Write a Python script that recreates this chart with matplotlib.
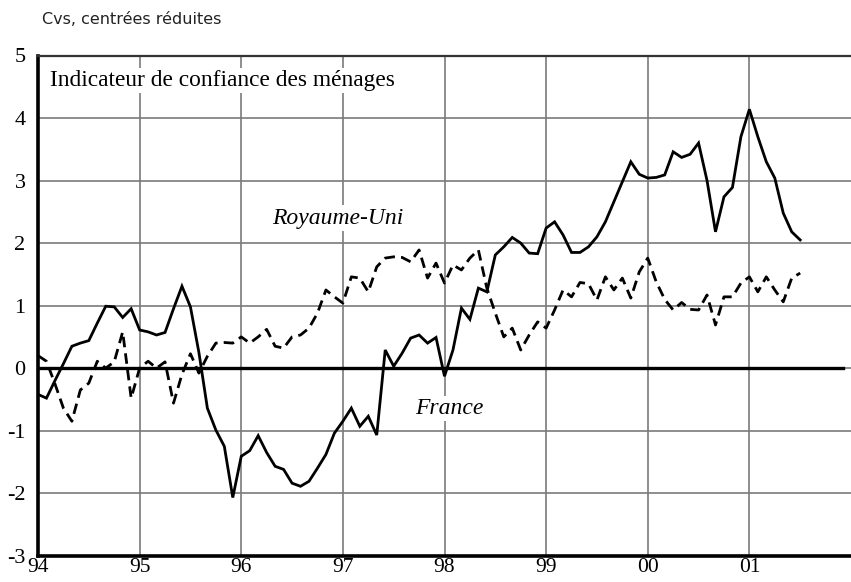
import matplotlib
matplotlib.use("Agg")
import matplotlib.pyplot as plt
import numpy as np

# Monthly data, January 1994 to July 2001
france = [
    -0.42, -0.48, -0.20, 0.07, 0.35, 0.40, 0.44, 0.72, 0.99, 0.98, 0.81, 0.95,
    0.61, 0.58, 0.53, 0.57, 0.95, 1.31, 0.98, 0.25, -0.64, -0.99, -1.25, -2.07,
    -1.41, -1.32, -1.08, -1.35, -1.57, -1.62, -1.84, -1.89, -1.81, -1.60, -1.38, -1.04,
    -0.85, -0.64, -0.93, -0.77, -1.07, 0.29, 0.03, 0.24, 0.48, 0.53, 0.40, 0.49,
    -0.13, 0.29, 0.96, 0.78, 1.28, 1.22, 1.81, 1.94, 2.09, 2.00, 1.84, 1.83,
    2.24, 2.34, 2.13, 1.85, 1.85, 1.94, 2.10, 2.34, 2.66, 2.98, 3.30, 3.10,
    3.04, 3.05, 3.09, 3.46, 3.37, 3.42, 3.60, 3.00, 2.18, 2.74, 2.89, 3.70,
    4.14, 3.70, 3.30, 3.04, 2.48, 2.18, 2.05,
]
royaume_uni = [
    0.20, 0.11, -0.25, -0.64, -0.85, -0.35, -0.24, 0.11, 0.00, 0.10, 0.58, -0.48,
    0.00, 0.11, 0.00, 0.10, -0.56, -0.10, 0.23, -0.08, 0.19, 0.40, 0.41, 0.40,
    0.50, 0.40, 0.50, 0.62, 0.35, 0.32, 0.50, 0.53, 0.64, 0.88, 1.25, 1.14,
    1.04, 1.46, 1.44, 1.22, 1.62, 1.76, 1.78, 1.77, 1.70, 1.89, 1.44, 1.68,
    1.36, 1.65, 1.57, 1.76, 1.89, 1.28, 0.88, 0.50, 0.64, 0.29, 0.53, 0.74,
    0.64, 0.93, 1.25, 1.14, 1.37, 1.35, 1.09, 1.46, 1.25, 1.44, 1.12, 1.54,
    1.76, 1.38, 1.10, 0.93, 1.05, 0.94, 0.93, 1.17, 0.69, 1.14, 1.14, 1.36,
    1.46, 1.22, 1.46, 1.25, 1.06, 1.44, 1.52,
]
year_labels = ["94", "95", "96", "97", "98", "99", "00", "01"]
y_ticks = [-3, -2, -1, 0, 1, 2, 3, 4, 5]

t = np.arange(len(france)) / 12.0

fig = plt.figure(figsize=(8.51, 5.82), dpi=100)
ax = fig.add_axes([38 / 851, 1 - 555.7 / 582, 1 - 38 / 851, (555.7 - 55.5) / 582])

serif = ["Liberation Serif", "DejaVu Serif"]

ax.set_xlim(0, 8)
ax.set_ylim(-3, 5)
ax.set_xticks(range(len(year_labels)))
ax.set_xticklabels(year_labels, fontfamily=serif, fontsize=15.5)
ax.set_yticks(y_ticks)
ax.set_yticklabels([str(v) for v in y_ticks], fontfamily=serif, fontsize=16)
ax.tick_params(axis="both", length=0)
ax.tick_params(axis="x", pad=1.5)
ax.tick_params(axis="y", pad=9)

ax.grid(True, color="#7a7a7a", linewidth=1.2, zorder=0)
ax.set_axisbelow(True)

for side in ["left", "bottom"]:
    ax.spines[side].set_linewidth(2.6)
    ax.spines[side].set_color("black")
ax.spines["top"].set_linewidth(1.6)
ax.spines["top"].set_color("#333333")
ax.spines["right"].set_visible(False)

ax.axhline(0, xmin=0, xmax=0.99, color="black", linewidth=2.4, zorder=2)

ax.plot(t, france, color="black", linewidth=2.0, solid_joinstyle="miter", zorder=4)
ax.plot(t, royaume_uni, color="black", linewidth=2.0, linestyle=(0, (3.8, 2.2)), zorder=4)

bbox = dict(facecolor="white", edgecolor="none", pad=1.5)
ax.text(12 / 101.6, 4.6, "Indicateur de confiance des ménages", fontfamily=serif,
        fontsize=16.8, ha="left", va="center", bbox=bbox, zorder=5)
ax.text((338 - 38) / 101.6, 2.4, "Royaume-Uni", fontfamily=serif, style="italic",
        fontsize=17, ha="center", va="center", bbox=bbox, zorder=5)
ax.text((449 - 38) / 101.6, -0.64, "France", fontfamily=serif, style="italic",
        fontsize=17, ha="center", va="center", bbox=bbox, zorder=5)

fig.text(42 / 851, 1 - 19 / 582, "Cvs, centrées réduites", fontfamily=["DejaVu Sans"],
         fontsize=11.5, ha="left", va="center", color="#222222")

fig.savefig("out.png", dpi=100)
